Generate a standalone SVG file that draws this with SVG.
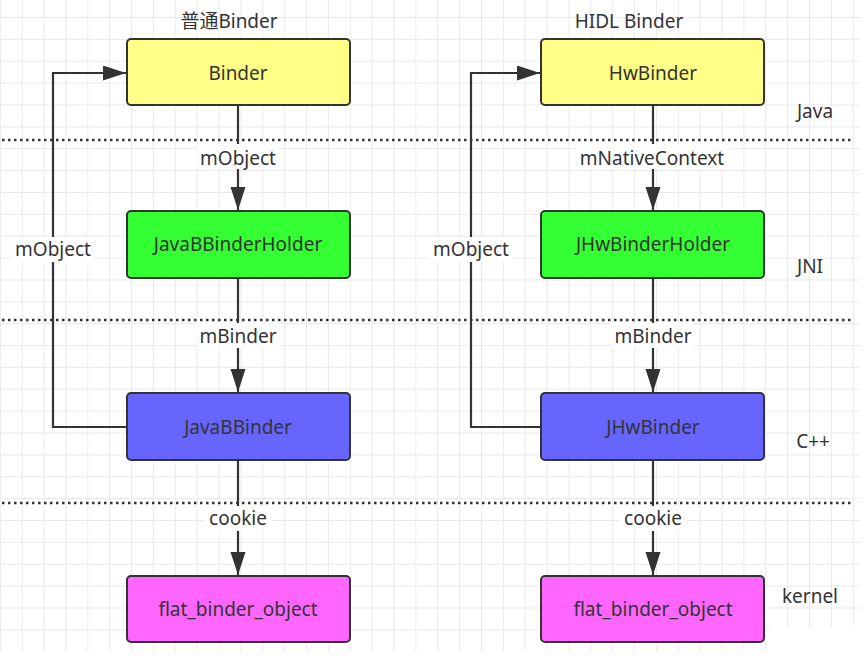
<svg xmlns="http://www.w3.org/2000/svg" width="864" height="656" viewBox="0 0 864 656">
<style>
  .box { stroke: #333333; stroke-width: 2; }
  .t { font-family: "Noto Sans", "Open Sans", "Noto Sans CJK SC", sans-serif; font-size: 19px; fill: #333333; text-anchor: middle; }
  .line { fill: none; stroke: #333333; stroke-width: 2.2; }
  .dot { fill: none; stroke: #333333; stroke-width: 2.5; stroke-dasharray: 2.5 3.5; }
  .lbl { fill: #ffffff; }
</style>
<defs>
  <pattern id="grid" patternUnits="userSpaceOnUse" x="21.7" y="17" width="21.87" height="21.87">
    <path d="M0 0 V21.87 M0 0 H21.87" stroke="#e9e9e9" stroke-width="2" fill="none"/>
  </pattern>
  <marker id="arr" markerUnits="userSpaceOnUse" markerWidth="24" markerHeight="16" refX="23" refY="7.5" orient="auto">
    <path d="M0 0 L23 7.5 L0 15 Z" fill="#333333"/>
  </marker>
</defs>
<rect x="0" y="0" width="864" height="656" fill="#ffffff"/>
<rect x="0" y="0" width="860" height="651" fill="url(#grid)"/>
<rect x="770" y="627" width="94" height="29" fill="#ffffff"/>

<g id="layers">
  <line class="dot" x1="2" y1="140" x2="852" y2="140"/>
  <line class="dot" x1="2" y1="320" x2="852" y2="320"/>
  <line class="dot" x1="2" y1="503" x2="852" y2="503"/>
  <text class="t" x="815" y="118">Java</text>
  <text class="t" x="810" y="273">JNI</text>
  <text class="t" x="813" y="448">C++</text>
  <text class="t" x="810" y="603">kernel</text>
  <text class="t" x="229" y="28">普通Binder</text>
  <text class="t" x="629" y="28">HIDL Binder</text>
</g>

<g id="connectors">
  <path class="line" d="M238 105 V210" marker-end="url(#arr)"/>
  <path class="line" d="M238 278 V392" marker-end="url(#arr)"/>
  <path class="line" d="M238 460 V575" marker-end="url(#arr)"/>
  <path class="line" d="M127 427 H53 V73 H126" marker-end="url(#arr)"/>
  <path class="line" d="M653 105 V210" marker-end="url(#arr)"/>
  <path class="line" d="M653 278 V392" marker-end="url(#arr)"/>
  <path class="line" d="M653 460 V575" marker-end="url(#arr)"/>
  <path class="line" d="M541 427 H471 V73 H540" marker-end="url(#arr)"/>
  <rect class="lbl" x="197" y="144" width="82" height="25"/>
  <text class="t" x="238" y="165">mObject</text>
  <rect class="lbl" x="197" y="323" width="82" height="25"/>
  <text class="t" x="238" y="343">mBinder</text>
  <rect class="lbl" x="204" y="506" width="68" height="25"/>
  <text class="t" x="238" y="525">cookie</text>
  <rect class="lbl" x="12" y="237" width="82" height="25"/>
  <text class="t" x="53" y="256">mObject</text>
  <rect class="lbl" x="576" y="144" width="154" height="25"/>
  <text class="t" x="652" y="165">mNativeContext</text>
  <rect class="lbl" x="612" y="323" width="82" height="25"/>
  <text class="t" x="653" y="343">mBinder</text>
  <rect class="lbl" x="619" y="506" width="68" height="25"/>
  <text class="t" x="653" y="525">cookie</text>
  <rect class="lbl" x="430" y="237" width="82" height="25"/>
  <text class="t" x="471" y="256">mObject</text>
</g>

<g id="binder">
  <rect class="box" x="127" y="39" width="223" height="66" rx="4" fill="#ffff88"/>
  <text class="t" x="238" y="80">Binder</text>
</g>
<g id="javabbinderholder">
  <rect class="box" x="127" y="211" width="223" height="67" rx="4" fill="#33ff33"/>
  <text class="t" x="238" y="251">JavaBBinderHolder</text>
</g>
<g id="javabbinder">
  <rect class="box" x="127" y="393" width="223" height="67" rx="4" fill="#6666ff"/>
  <text class="t" x="238" y="434">JavaBBinder</text>
</g>
<g id="flat_left">
  <rect class="box" x="127" y="576" width="223" height="66" rx="4" fill="#ff66ff"/>
  <text class="t" x="238" y="616">flat_binder_object</text>
</g>
<g id="hwbinder">
  <rect class="box" x="541" y="39" width="223" height="66" rx="4" fill="#ffff88"/>
  <text class="t" x="653" y="80">HwBinder</text>
</g>
<g id="jhwbinderholder">
  <rect class="box" x="541" y="211" width="223" height="67" rx="4" fill="#33ff33"/>
  <text class="t" x="653" y="251">JHwBinderHolder</text>
</g>
<g id="jhwbinder">
  <rect class="box" x="541" y="393" width="223" height="67" rx="4" fill="#6666ff"/>
  <text class="t" x="653" y="434">JHwBinder</text>
</g>
<g id="flat_right">
  <rect class="box" x="541" y="576" width="223" height="66" rx="4" fill="#ff66ff"/>
  <text class="t" x="653" y="616">flat_binder_object</text>
</g>
</svg>
